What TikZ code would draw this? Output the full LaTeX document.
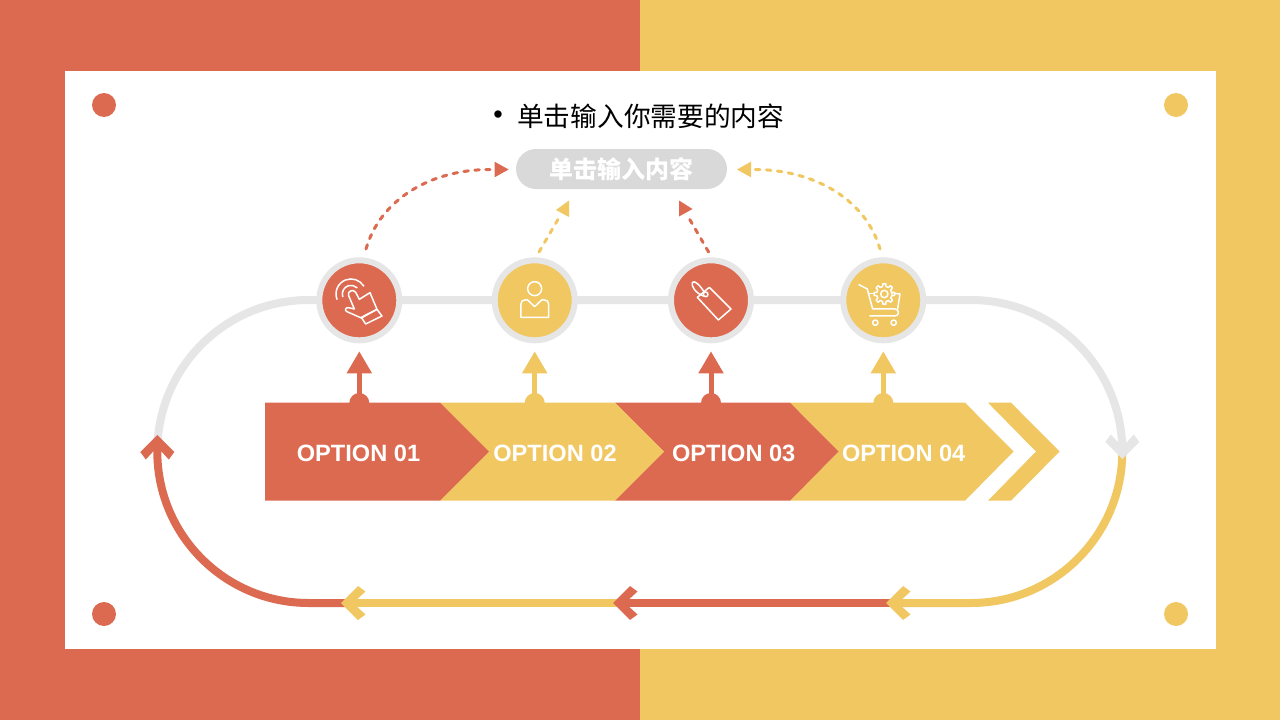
\documentclass[tikz,border=0pt]{standalone}
\usepackage{fontspec}
\setmainfont{Liberation Sans}
\newfontfamily\cjk{Noto Sans CJK SC}
\usetikzlibrary{arrows.meta}
\definecolor{optred}{HTML}{DC6A50}
\definecolor{optyel}{HTML}{F0C761}
\definecolor{loopgrey}{HTML}{E6E6E6}
\definecolor{pillgrey}{HTML}{D9D9D9}
\tikzset{
  loopline/.style={line width=8pt},
  corner/.style={circle,inner sep=0pt,minimum size=24pt},
  hub/.style={circle,inner sep=0pt,minimum size=80pt,draw=loopgrey,line width=6pt},
  upline/.style={line width=5pt,-{Triangle[width=24pt,length=22pt]},shorten >=8pt},
  dashline/.style={line width=3pt,line cap=round,dash pattern=on 4.5pt off 6.5pt},
  optlabel/.style={text=white,font=\fontsize{23.6}{28}\selectfont\bfseries,inner sep=0pt},
  iconline/.style={draw=white,line width=1.5pt,line join=round,line cap=round},
  chev/.pic={\fill[pic actions] (0,0)--(17,-17)--(24.5,-11.5)--(12,0)--(24.5,11.5)--(17,17)--cycle;},
}
\begin{document}
\begin{tikzpicture}[x=1pt,y=-1pt]
\useasboundingbox (0,0) rectangle (1280,720);
% background
\fill[optred] (0,0) rectangle (640,720);
\fill[optyel] (640,0) rectangle (1280,720);
\fill[white] (65,71) rectangle (1216,649);
\node[corner,fill=optred] (dotA) at (104,105) {};
\node[corner,fill=optyel] (dotB) at (1176,105) {};
\node[corner,fill=optred] (dotC) at (104,614) {};
\node[corner,fill=optyel] (dotD) at (1176,614) {};
% title and pill
\node[inner sep=0pt,font=\fontsize{27}{30}\selectfont] (bullet) at (498,117.5) {•};
\node[inner sep=0pt,anchor=west,font=\cjk\fontsize{26.7}{30}\selectfont] (title) at (517,116) {单击输入你需要的内容};
\node[rounded corners=20pt,fill=pillgrey,minimum width=211pt,minimum height=40pt,inner sep=0pt,text=white,font=\cjk\bfseries\fontsize{24}{28}\selectfont] (pill) at (621.5,169) {单击输入内容};
% loop
\draw[loopline,loopgrey] (157.3,437) -- (157.3,451.5) .. controls (157.3,367.8) and (225.1,300) .. (308.8,300) -- (970.8,300) .. controls (1054.5,300) and (1122.3,367.8) .. (1122.3,451.5);
\draw[loopline,optyel] (1122.3,451.5) .. controls (1122.3,535.2) and (1054.5,603) .. (970.8,603) -- (890,603);
\draw[loopline,optred] (890,603) -- (620,603);
\draw[loopline,optyel] (620,603) -- (345,603);
\draw[loopline,optred] (345,603) -- (308.8,603) .. controls (225.1,603) and (157.3,535.2) .. (157.3,451.5) -- (157.3,442);
\pic[fill=optyel] at (886,603) {chev};
\pic[fill=optred] at (613,603) {chev};
\pic[fill=optyel] at (341,603) {chev};
\pic[fill=optred,rotate=-90] at (157.3,435) {chev};
\pic[fill=loopgrey,rotate=90] at (1122.3,459) {chev};
% hubs
\node[hub,fill=optred] (c1) at (359.3,300.3) {};
\node[hub,fill=optyel] (c2) at (534.7,300.3) {};
\node[hub,fill=optred] (c3) at (711,300.3) {};
\node[hub,fill=optyel] (c4) at (883.3,300.3) {};
% option bar
\fill[optyel] (988,402.7)--(1011,402.7)--(1059.5,451.5)--(1011,500.7)--(988,500.7)--(1036,451.5)--cycle;
\fill[optyel] (790,402.7)--(965,402.7)--(1013.5,451.5)--(965,500.7)--(790,500.7)--(838.5,451.5)--cycle;
\fill[optred] (615,402.7)--(790,402.7)--(838.5,451.5)--(790,500.7)--(615,500.7)--(664,451.5)--cycle;
\fill[optyel] (440,402.7)--(615,402.7)--(664,451.5)--(615,500.7)--(440,500.7)--(489,451.5)--cycle;
\fill[optred] (265,402.7)--(440,402.7)--(489,451.5)--(440,500.7)--(265,500.7)--cycle;
\node[optlabel] (o1) at (358.5,453) {OPTION 01};
\node[optlabel] (o2) at (555,453) {OPTION 02};
\node[optlabel] (o3) at (733.7,453) {OPTION 03};
\node[optlabel] (o4) at (903.7,453) {OPTION 04};
% up arrows
\coordinate (b1) at (359.3,403);
\coordinate (b2) at (534.7,403);
\coordinate (b3) at (711,403);
\coordinate (b4) at (883.3,403);
\fill[optred] (349.3,403) arc[start angle=180,end angle=360,radius=10];
\fill[optyel] (524.7,403) arc[start angle=180,end angle=360,radius=10];
\fill[optred] (701,403) arc[start angle=180,end angle=360,radius=10];
\fill[optyel] (873.3,403) arc[start angle=180,end angle=360,radius=10];
\draw[upline,optred] (b1) -- (c1.south);
\draw[upline,optyel] (b2) -- (c2.south);
\draw[upline,optred] (b3) -- (c3.south);
\draw[upline,optyel] (b4) -- (c4.south);
% dashed connectors
\coordinate (d1s) at (366,249);
\coordinate (d1e) at (490,169.5);
\coordinate (d2s) at (539,252);
\coordinate (d2e) at (560,216);
\coordinate (d3s) at (708.6,252);
\coordinate (d3e) at (688,216.5);
\coordinate (d4s) at (880,249);
\coordinate (d4e) at (754,169.5);
\draw[dashline,optred] (d1s) .. controls (380,200) and (430,169.5) .. (d1e);
\draw[dashline,optyel] (d2s) -- (d2e);
\draw[dashline,optred] (d3s) -- (d3e);
\draw[dashline,optyel] (d4s) .. controls (866,200) and (815,169.5) .. (d4e);
\fill[optred] (494.6,161.7)--(508.6,169.5)--(494.6,177.3)--cycle;
\fill[optyel] (751,161.7)--(737,169.5)--(751,177.3)--cycle;
\fill[optyel] (556,210)--(569,200.5)--(569,217)--cycle;
\fill[optred] (679,200.5)--(692.5,209)--(679,216.5)--cycle;
% icons: hand and person (zoom coordinates)
\begin{scope}[shift={(300,240)},x=0.3333pt,y=-0.3333pt]
  \draw[iconline] (111,178) arc[start angle=159,end angle=328,radius=45];
  \draw[iconline] (128.3,170) arc[start angle=162,end angle=314,radius=26];
  \draw[iconline] (146,167) -- (163,207) -- (145,203) .. controls (136,202) and (133,212) .. (141,215) -- (184,234) -- (231,208) -- (210,158) -- (178,178) -- (167,157) .. controls (160,146) and (141,153) .. cycle;
  \draw[iconline] (184,232) -- (231,208) -- (246,228) -- (197,252) -- cycle;
  \draw[iconline] (704,146) circle[radius=21];
  \draw[iconline] (663,232) -- (746,232) -- (746,192) .. controls (746,184) and (741,180) .. (733,180) -- (725,180) -- (704,200) -- (683,180) -- (675,180) .. controls (667,180) and (663,184) .. (663,192) -- cycle;
\end{scope}
% icons: tag and cart (zoom coordinates)
\begin{scope}[shift={(650,240)},x=0.3333pt,y=-0.3333pt]
  \draw[iconline] (142,172) -- (178,142) -- (243,207) -- (205,240) -- cycle;
  \draw[iconline] (167,163) circle[radius=7];
  \draw[iconline] (163,157) .. controls (150,135) and (133,120) .. (127,127) .. controls (122,138) and (138,160) .. (160,168);
  \draw[iconline] (627,134) -- (652,147) -- (668,207) -- (735,207) .. controls (749,207) and (749,228) .. (735,228) -- (660,228);
  \draw[iconline] (655,160) -- (672,160);
  \draw[iconline] (733,160) -- (750,162) -- (743,207);
  \draw[iconline] (676,248) circle[radius=8];
  \draw[iconline] (731,248) circle[radius=8];
  \begin{scope}[shift={(703,162)}]
    \draw[iconline] (0:23) \foreach \a in {0,45,...,315} { -- (\a-13:23) -- (\a-8:31) -- (\a+8:31) -- (\a+13:23)} -- cycle;
    \draw[iconline] (0,0) circle[radius=11];
  \end{scope}
\end{scope}
\end{tikzpicture}
\end{document}
